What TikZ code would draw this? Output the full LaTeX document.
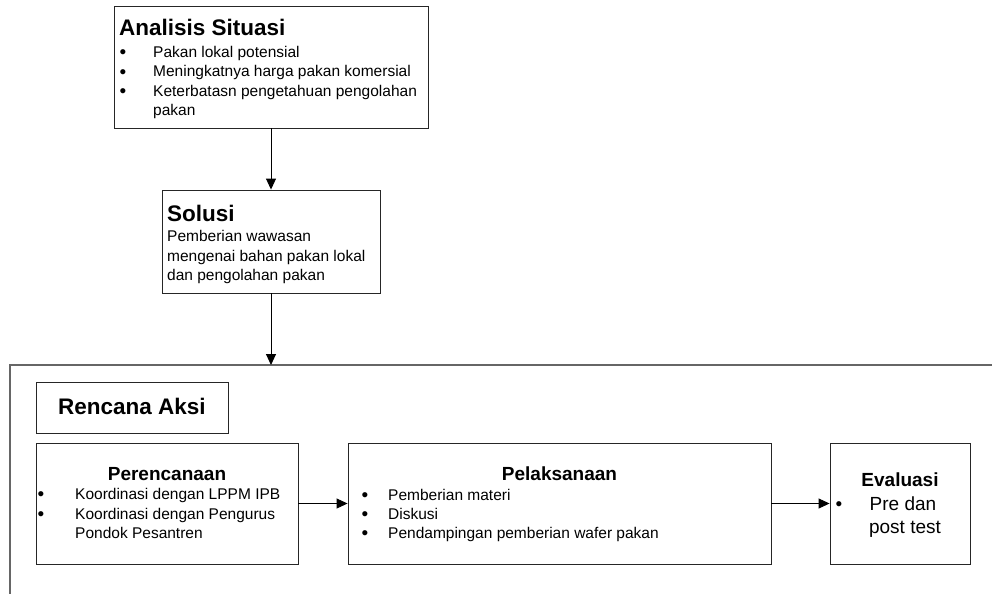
\documentclass[tikz,border=0pt]{standalone}
\usepackage{fontspec}
\setmainfont{Liberation Sans}
\usetikzlibrary{arrows.meta}
\begin{document}
\begin{tikzpicture}[x=1pt,y=-1pt,
  box/.style={draw=black!85,line width=0.9pt,rectangle,inner sep=0pt},
  arr/.style={draw=black,line width=0.9pt,-{Triangle[length=11pt,width=10pt]}},
  frame/.style={draw=black!60,line width=1.4pt},
  ttl/.style={font=\fontsize{22.5}{27}\selectfont\bfseries,inner sep=0pt},
  sub/.style={font=\fontsize{19}{23}\selectfont\bfseries,inner sep=0pt,anchor=base},
  body/.style={font=\fontsize{15.5}{19}\selectfont,inner sep=0pt,anchor=base west},
  bul/.style={font=\fontsize{19}{19}\selectfont,inner sep=0pt,anchor=base},
  big/.style={font=\fontsize{19}{23}\selectfont,inner sep=0pt,anchor=base}]
\useasboundingbox (0,0) rectangle (992,594);
\fill[white] (0,0) rectangle (992,594);

% outer frame (open on right and bottom)
\coordinate (ftop) at (10,365);
\coordinate (fright) at (992,365);
\coordinate (fbot) at (10,594);
\draw[frame] (fright) -- (ftop) -- (fbot);

% boxes
\node[box,minimum width=314pt,minimum height=122pt] (ana) at (271,67) {};
\node[box,minimum width=218pt,minimum height=103pt] (sol) at (271,241.5) {};
\node[box,minimum width=192pt,minimum height=51pt] (rak) at (132,407.5) {};
\node[box,minimum width=262pt,minimum height=121pt] (per) at (167,503.5) {};
\node[box,minimum width=423pt,minimum height=121pt] (pel) at (559.5,503.5) {};
\node[box,minimum width=140pt,minimum height=121pt] (eva) at (900,503.5) {};

% Analisis Situasi
\node[ttl,anchor=base west] (anat) at (119,36) {Analisis Situasi};
\node[bul] (anab1) at (123,59) {•};
\node[bul] (anab2) at (123,78) {•};
\node[bul] (anab3) at (123,97) {•};
\node[body] (anal1) at (153,58) {Pakan lokal potensial};
\node[body] (anal2) at (153,77) {Meningkatnya harga pakan komersial};
\node[body] (anal3) at (153,96) {Keterbatasn pengetahuan pengolahan};
\node[body] (anal4) at (153,115) {pakan};

% Solusi
\node[ttl,anchor=base west] (solt) at (167,221) {Solusi};
\node[body] (soll1) at (167,241) {Pemberian wawasan};
\node[body] (soll2) at (167,261) {mengenai bahan pakan lokal};
\node[body] (soll3) at (167,280) {dan pengolahan pakan};

% Rencana Aksi
\node[ttl,anchor=base] (rakt) at (132,414) {Rencana Aksi};

% Perencanaan
\node[sub] (pert) at (167,480) {Perencanaan};
\node[bul] (perb1) at (41,500) {•};
\node[bul] (perb2) at (41,520) {•};
\node[body] (perl1) at (75,499) {Koordinasi dengan LPPM IPB};
\node[body] (perl2) at (75,519) {Koordinasi dengan Pengurus};
\node[body] (perl3) at (75,538) {Pondok Pesantren};

% Pelaksanaan
\node[sub] (pelt) at (559.5,480) {Pelaksanaan};
\node[bul] (pelb1) at (365,501) {•};
\node[bul] (pelb2) at (365,520) {•};
\node[bul] (pelb3) at (365,539) {•};
\node[body] (pell1) at (388,500) {Pemberian materi};
\node[body] (pell2) at (388,519) {Diskusi};
\node[body] (pell3) at (388,538) {Pendampingan pemberian wafer pakan};

% Evaluasi
\node[sub] (evat) at (900,486) {Evaluasi};
\node[bul] (evab) at (839,510) {•};
\node[big] (eval1) at (903,510) {Pre dan};
\node[big] (eval2) at (905,533) {post test};

% connectors
\draw[arr] (ana.south) -- (sol.north);
\draw[arr] (sol.south) -- (sol.south |- ftop);
\draw[arr] (per.east) -- (pel.west);
\draw[arr] (pel.east) -- (eva.west);
\end{tikzpicture}
\end{document}
